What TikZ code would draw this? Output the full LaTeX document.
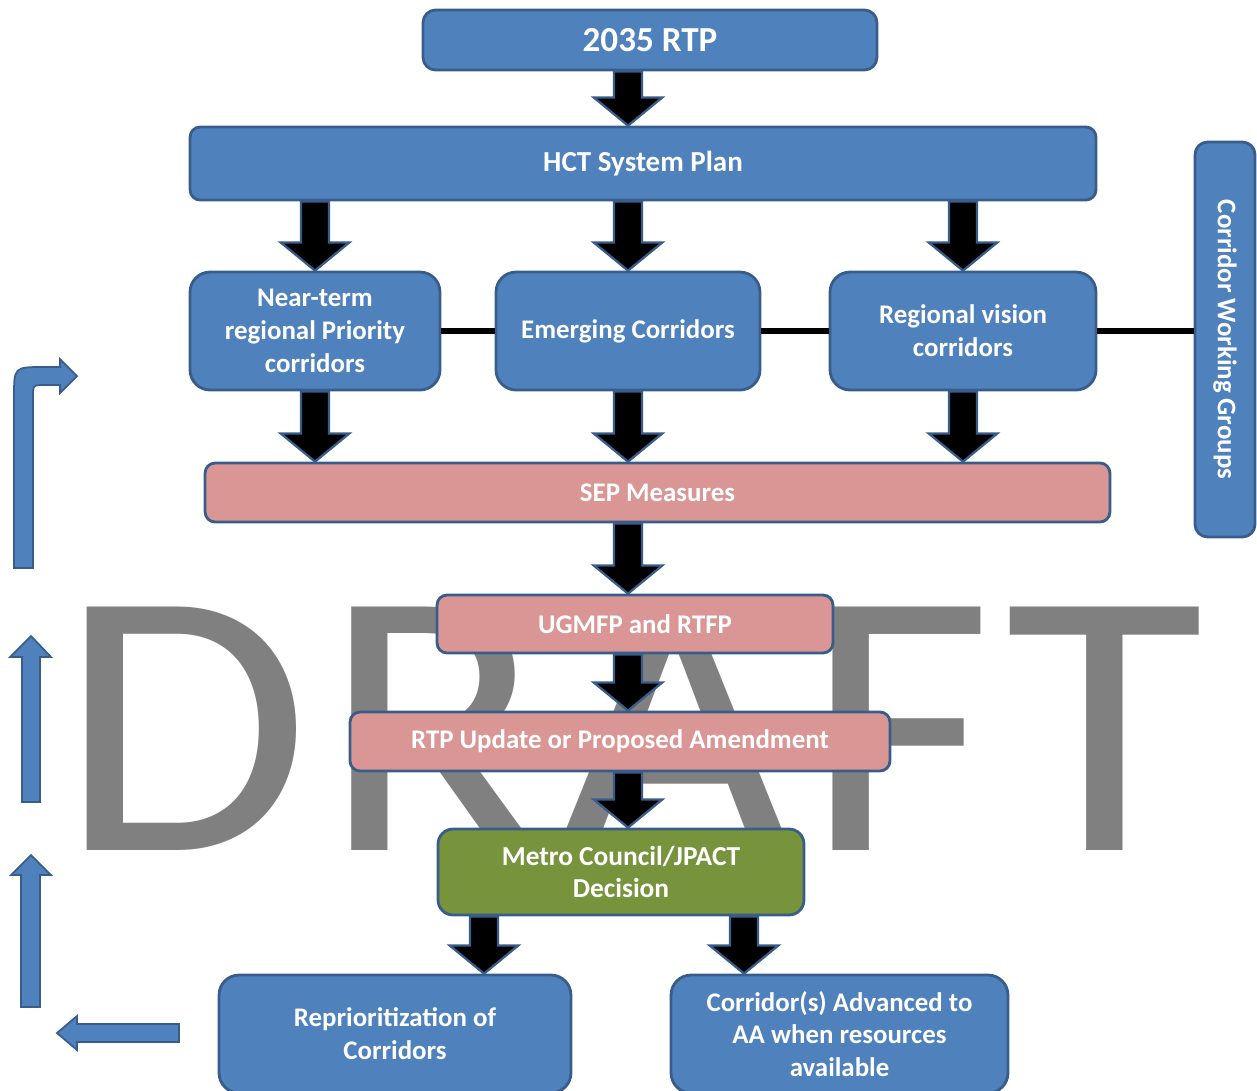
\documentclass[tikz,border=0pt]{standalone}
\usepackage{fontspec}
\setmainfont{Carlito}
\usetikzlibrary{shapes, positioning, calc}
\definecolor{boxblue}{RGB}{79,129,189}
\definecolor{boxedge}{RGB}{56,93,138}
\definecolor{sepred}{RGB}{217,150,148}
\definecolor{decidegreen}{RGB}{119,147,60}
\definecolor{draftgray}{RGB}{128,128,128}

\begin{document}
\begin{tikzpicture}[
    x=0.02cm, y=-0.02cm,
    stage/.style={rectangle, draw=boxedge, line width=1.6pt, fill=boxblue, rounded corners=2.5mm,
        text centered, align=center, text=white, font=\bfseries\fontsize{15.3}{18.7}\selectfont},
    corridor/.style={stage, rounded corners=4mm, minimum height=2.36cm},
    measure/.style={stage, fill=sepred, rounded corners=2mm},
    decision/.style={stage, fill=decidegreen, rounded corners=3mm,
        font=\bfseries\fontsize{15.6}{18.2}\selectfont},
    bigarrow/.style={fill=black, draw=boxedge, line width=1.3pt, line join=miter,
        to path={let \p1=(\tikztostart), \p2=(\tikztotarget) in
            (\x1-8pt,\y1) -- (\x1-8pt,\y2+16pt) -- (\x1-19.5pt,\y2+16pt) -- (\x1,\y2)
            -- (\x1+19.5pt,\y2+16pt) -- (\x1+8pt,\y2+16pt) -- (\x1+8pt,\y1) -- cycle}},
    feedback/.style={fill=boxblue, draw=boxedge, line width=1pt},
    link/.style={draw=black, line width=3.2pt},
    watermark/.style={anchor=base west, inner sep=0pt, text=draftgray, xscale=1.073, transform shape,
        font=\fontsize{216}{216}\selectfont\addfontfeature{LetterSpace=3.2}}
]
\useasboundingbox (0,0) rectangle (1257,1090);

\node (draft) [watermark] at (59,850) {DRAFT};

\node (rtp) [stage, minimum width=9.08cm, minimum height=1.2cm,
    font=\bfseries\fontsize{20}{24}\selectfont] at (650,40) {2035 RTP};
\node (hct) [stage, minimum width=18.12cm, minimum height=1.46cm, rounded corners=2mm,
    font=\bfseries\fontsize{16.5}{20}\selectfont] at (643,163.5) {HCT System Plan};
\node (near) [corridor, minimum width=5cm] at (315,331) {Near-term\\regional Priority\\corridors};
\node (emerg) [corridor, minimum width=5.28cm] at (628,331) {Emerging Corridors};
\node (vision) [corridor, minimum width=5.32cm] at (963,331) {Regional vision\\corridors};
\node (cwg) [stage, rotate=-90, minimum width=7.9cm, minimum height=1.2cm] at (1225,339.5)
    {Corridor Working Groups};
\node (sep) [measure, minimum width=18.1cm, minimum height=1.18cm] at (657.5,492.5) {SEP Measures};
\node (ugm) [measure, minimum width=7.92cm, minimum height=1.16cm] at (635,624) {UGMFP and RTFP};
\node (upd) [measure, minimum width=10.8cm, minimum height=1.18cm] at (620,741.5)
    {RTP Update or Proposed Amendment};
\node (metro) [decision, minimum width=7.32cm, minimum height=1.72cm] at (621,872)
    {Metro Council/JPACT\\Decision};
\node (repri) [stage, minimum width=7.04cm, minimum height=2.36cm, rounded corners=4mm] at (395,1034)
    {Reprioritization of\\Corridors};
\node (adv) [stage, minimum width=6.74cm, minimum height=2.36cm, rounded corners=4mm] at (839.5,1034)
    {Corridor(s) Advanced to\\AA when resources\\available};

\coordinate (splitL) at (484,0);
\coordinate (splitR) at (744,0);

\draw[link] (near) -- (emerg);
\draw[link] (emerg) -- (vision);
\draw[link] (vision.east) -- (vision.east -| cwg.south);

\draw[bigarrow] (rtp.south -| emerg.center) to (hct.north -| emerg.center);
\draw[bigarrow] (hct.south -| near.center) to (near.north);
\draw[bigarrow] (hct.south -| emerg.center) to (emerg.north);
\draw[bigarrow] (hct.south -| vision.center) to (vision.north);
\draw[bigarrow] (near.south) to (sep.north -| near.center);
\draw[bigarrow] (emerg.south) to (sep.north -| emerg.center);
\draw[bigarrow] (vision.south) to (sep.north -| vision.center);
\draw[bigarrow] (sep.south -| emerg.center) to (ugm.north -| emerg.center);
\draw[bigarrow] (ugm.south -| emerg.center) to (upd.north -| emerg.center);
\draw[bigarrow] (upd.south -| emerg.center) to (metro.north -| emerg.center);
\draw[bigarrow] (metro.south -| splitL) to (repri.north -| splitL);
\draw[bigarrow] (metro.south -| splitR) to (adv.north -| splitR);

\draw[feedback] (14,568) -- (14,397) .. controls (14,367) .. (44,367) -- (60,367) -- (60,359)
    -- (77,376) -- (60,393) -- (60,385) -- (45,385) .. controls (33,385) .. (33,397) -- (33,568) -- cycle;
\draw[feedback] (22,802) -- (22,657) -- (10,657) -- (31,636) -- (51,657) -- (40,657) -- (40,802) -- cycle;
\draw[feedback] (21,1007) -- (21,875) -- (11,875) -- (31,855) -- (51,875) -- (40,875) -- (40,1007) -- cycle;
\draw[feedback] (179,1024) -- (77,1024) -- (77,1016) -- (57,1033) -- (77,1050) -- (77,1042) -- (179,1042) -- cycle;

\end{tikzpicture}
\end{document}
